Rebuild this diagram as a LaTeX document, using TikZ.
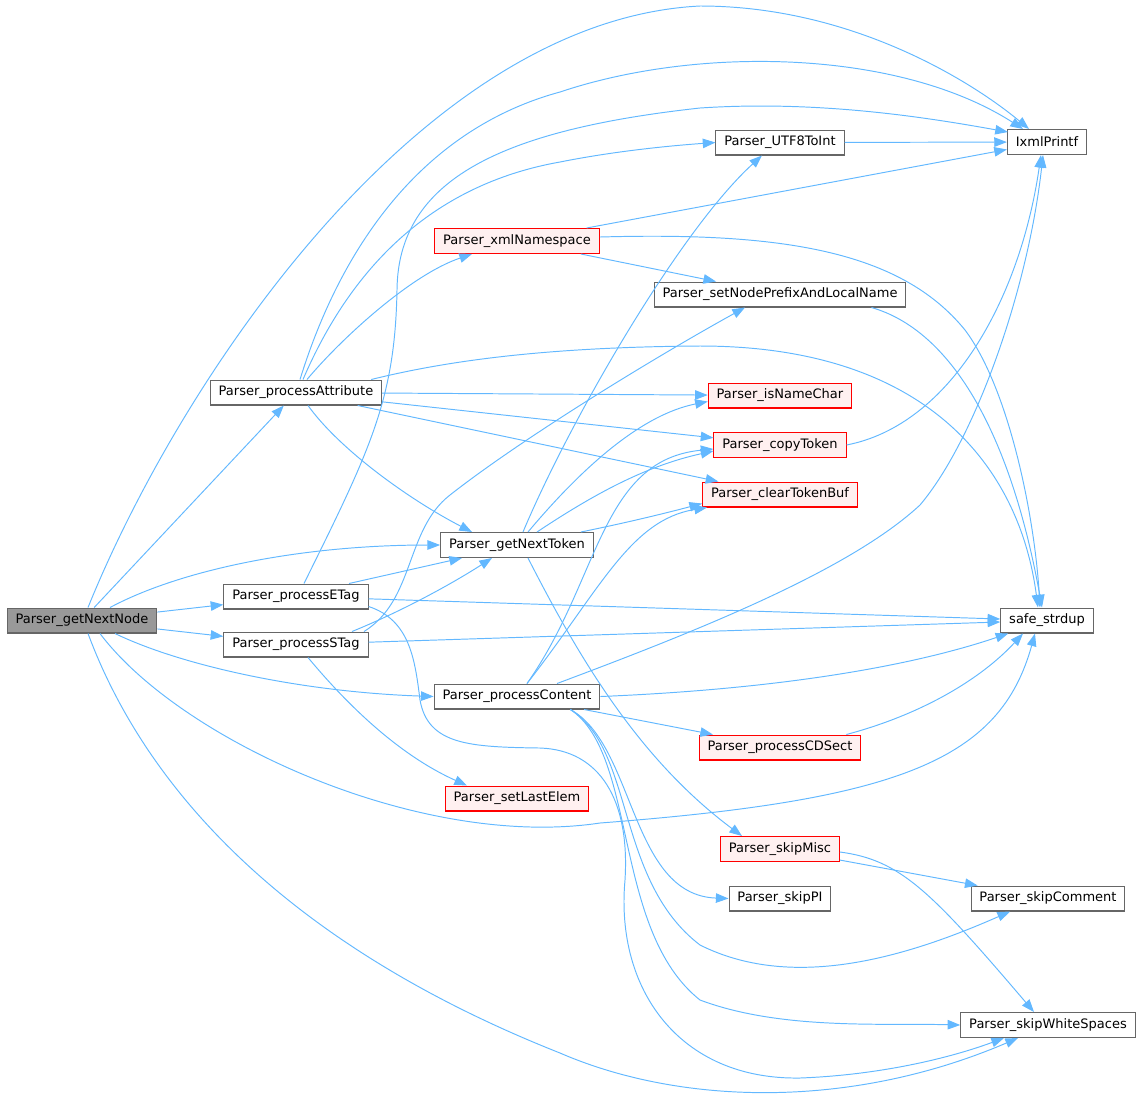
\documentclass[tikz,border=0pt]{standalone}
\usepackage{fontspec}
\setmainfont{DejaVu Sans}
\usetikzlibrary{arrows.meta}
\definecolor{bleulien}{HTML}{63B8FF}
\definecolor{bordgris}{HTML}{666666}
\definecolor{fondrouge}{HTML}{FFF0F0}
\definecolor{fondgris}{HTML}{999999}
\begin{document}
\begin{tikzpicture}[x=0.02cm,y=-0.02cm]
	\tikzstyle{boite}=[draw=bordgris, fill=white, line width=0.6pt, minimum height=14.2pt, inner xsep=4.8pt, inner ysep=0pt, font=\fontsize{7.4}{8}\selectfont]
	\tikzstyle{boite_rouge}=[boite, draw=red, fill=fondrouge]
	\tikzstyle{boite_grise}=[boite, fill=fondgris]
	\tikzstyle{fleche}=[draw=bleulien, line width=0.55pt, -{Triangle[length=7.2pt,width=5.4pt]}, bleulien]
	\useasboundingbox (0,0) rectangle (1143,1107);
	\node[boite_grise] (nextnode) at (82,620.5) {Parser\_getNextNode}; % appelant
	\node[boite] (attr) at (296,392.5) {Parser\_processAttribute};
	\node[boite] (etag) at (296,596.5) {Parser\_processETag};
	\node[boite] (stag) at (296,644.5) {Parser\_processSTag};
	\node[boite] (nexttoken) at (517,545) {Parser\_getNextToken};
	\node[boite] (content) at (517,696.5) {Parser\_processContent};
	\node[boite_rouge] (lastelem) at (517,798.5) {Parser\_setLastElem};
	\node[boite_rouge] (xmlns) at (517,241) {Parser\_xmlNamespace};
	\node[boite] (utf) at (780,142.5) {Parser\_UTF8ToInt};
	\node[boite] (prefix) at (780,294.5) {Parser\_setNodePrefixAndLocalName};
	\node[boite_rouge] (namechar) at (780,395.5) {Parser\_isNameChar};
	\node[boite_rouge] (copytok) at (780,445) {Parser\_copyToken};
	\node[boite_rouge] (cleartok) at (780,494.5) {Parser\_clearTokenBuf};
	\node[boite_rouge] (cdsect) at (780,747.5) {Parser\_processCDSect};
	\node[boite_rouge] (skipmisc) at (780,849) {Parser\_skipMisc};
	\node[boite] (skippi) at (780,898.5) {Parser\_skipPI};
	\node[boite] (printf) at (1047,142) {IxmlPrintf}; % colonne droite
	\node[boite] (strdup) at (1047,620.5) {safe\_strdup};
	\node[boite] (skipcomment) at (1048,898.5) {Parser\_skipComment};
	\node[boite] (skipws) at (1048,1025) {Parser\_skipWhiteSpaces};
	% getNextNode
	\draw[fleche] ([shift={(6,0)}]nextnode.north) .. controls (180,380) and (420,20) .. (700,6) .. controls (850,6) and (970,80) .. ([shift={(-18,0)}]printf.north);
	\draw[fleche] (nextnode) -- (attr);
	\draw[fleche] ([shift={(28,0)}]nextnode.north) .. controls (180,570) and (300,545) .. (nexttoken.west);
	\draw[fleche] (nextnode) -- (etag);
	\draw[fleche] (nextnode) -- (stag);
	\draw[fleche] ([shift={(33,0)}]nextnode.south) .. controls (180,665) and (300,692) .. (content.west);
	\draw[fleche] ([shift={(18,0)}]nextnode.south) .. controls (180,740) and (420,850) .. (600,823) .. controls (900,800) and (1000,760) .. ([shift={(-12,0)}]strdup.south);
	\draw[fleche] ([shift={(6,0)}]nextnode.south) .. controls (150,800) and (300,950) .. (560,1053) .. controls (680,1105) and (850,1110) .. ([shift={(-30,0)}]skipws.south);
	% processAttribute
	\draw[fleche] ([shift={(4,0)}]attr.north) .. controls (340,250) and (420,130) .. (560,92) .. controls (700,45) and (900,50) .. ([shift={(-24,0)}]printf.north);
	\draw[fleche] ([shift={(7,0)}]attr.north) .. controls (350,270) and (430,185) .. (560,162) .. controls (620,150) and (680,145) .. (utf.west);
	\draw[fleche] ([shift={(11,0)}]attr.north) .. controls (340,340) and (410,275) .. ([shift={(-45,0)}]xmlns.south);
	\draw[fleche] (attr) -- (namechar);
	\draw[fleche] (attr) -- (copytok);
	\draw[fleche] (attr) -- (cleartok);
	\draw[fleche] ([shift={(12,0)}]attr.south) .. controls (340,450) and (410,500) .. ([shift={(-45,0)}]nexttoken.north);
	\draw[fleche] ([shift={(-11,0)}]attr.north east) .. controls (450,360) and (550,347) .. (700,346) .. controls (930,346) and (1020,470) .. ([shift={(-9,0)}]strdup.north);
	% processETag
	\draw[fleche] ([shift={(53,0)}]etag.north) -- ([shift={(-55,0)}]nexttoken.south);
	\draw[fleche] ([shift={(8,0)}]etag.north) .. controls (370,450) and (395,400) .. (397,290) .. controls (398,180) and (500,130) .. (700,108) .. controls (820,100) and (930,118) .. ([shift={(1,3)}]printf.north west);
	\draw[fleche] (etag) -- (strdup);
	\draw[fleche] ([shift={(0,-3)}]etag.south east) .. controls (410,620) and (415,660) .. (420,700) .. controls (428,745) and (470,747) .. (540,748) .. controls (600,750) and (630,800) .. (625,880) .. controls (615,990) and (680,1080) .. (800,1078) .. controls (880,1075) and (950,1058) .. ([shift={(-44,0)}]skipws.south);
	% processSTag
	\draw[fleche] ([shift={(56,0)}]stag.north) .. controls (400,612) and (450,585) .. ([shift={(-25,0)}]nexttoken.south);
	\draw[fleche] ([shift={(68,0)}]stag.north) .. controls (415,600) and (405,530) .. (450,495) .. controls (520,440) and (650,360) .. ([shift={(-35,0)}]prefix.south);
	\draw[fleche] (stag) -- (strdup);
	\draw[fleche] ([shift={(12,0)}]stag.south) .. controls (360,720) and (410,760) .. ([shift={(-50,0)}]lastelem.north);
	% getNextToken
	\draw[fleche] ([shift={(6,0)}]nexttoken.north) .. controls (570,420) and (680,230) .. ([shift={(-18,0)}]utf.south);
	\draw[fleche] ([shift={(11,0)}]nexttoken.north) .. controls (580,470) and (640,415) .. ([shift={(0,6)}]namechar.west);
	\draw[fleche] ([shift={(20,0)}]nexttoken.north) .. controls (600,490) and (650,465) .. ([shift={(0,6)}]copytok.west);
	\draw[fleche] ([shift={(-13,0)}]nexttoken.north east) .. controls (630,522) and (670,512) .. ([shift={(0,-4)}]cleartok.south west);
	\draw[fleche] ([shift={(11,0)}]nexttoken.south) .. controls (580,660) and (640,760) .. ([shift={(-38,0)}]skipmisc.north);
	% processContent
	\draw[fleche] ([shift={(40,0)}]content.north) .. controls (700,630) and (850,570) .. (920,505) .. controls (975,440) and (1028,290) .. ([shift={(-4,0)}]printf.south);
	\draw[fleche] ([shift={(10,0)}]content.north) .. controls (600,580) and (600,460) .. ([shift={(0,4)}]copytok.west);
	\draw[fleche] ([shift={(10,0)}]content.north) .. controls (600,590) and (630,520) .. ([shift={(5,0)}]cleartok.south west);
	\draw[fleche] (content.east) .. controls (760,690) and (900,670) .. ([shift={(8,0)}]strdup.south west);
	\draw[fleche] (content) -- (cdsect);
	\draw[fleche] ([shift={(-30,0)}]content.south east) .. controls (635,745) and (630,895) .. (skippi.west);
	\draw[fleche] ([shift={(-30,0)}]content.south east) .. controls (635,750) and (615,880) .. (700,945) .. controls (790,990) and (900,960) .. ([shift={(-38,0)}]skipcomment.south);
	\draw[fleche] ([shift={(-30,0)}]content.south east) .. controls (638,755) and (612,930) .. (700,1000) .. controls (780,1030) and (880,1023) .. (skipws.west);
	% xmlNamespace
	\draw[fleche] (xmlns) -- (printf);
	\draw[fleche] (xmlns) -- (prefix);
	\draw[fleche] ([shift={(0,-4)}]xmlns.east) .. controls (780,232) and (900,250) .. (965,330) .. controls (1010,390) and (1035,520) .. ([shift={(-7,0)}]strdup.north);
	% les autres
	\draw[fleche] (utf) -- (printf);
	\draw[fleche] ([shift={(-35,0)}]prefix.south east) .. controls (950,330) and (1010,430) .. ([shift={(-5,0)}]strdup.north);
	\draw[fleche] (copytok.east) .. controls (950,425) and (1020,300) .. ([shift={(-6,0)}]printf.south);
	\draw[fleche] ([shift={(-15,0)}]cdsect.north east) .. controls (920,715) and (980,680) .. ([shift={(-24,0)}]strdup.south);
	\draw[fleche] (skipmisc) -- (skipcomment);
	\draw[fleche] ([shift={(0,3)}]skipmisc.east) .. controls (900,860) and (930,890) .. ([shift={(-14,0)}]skipws.north);
\end{tikzpicture}
\end{document}
